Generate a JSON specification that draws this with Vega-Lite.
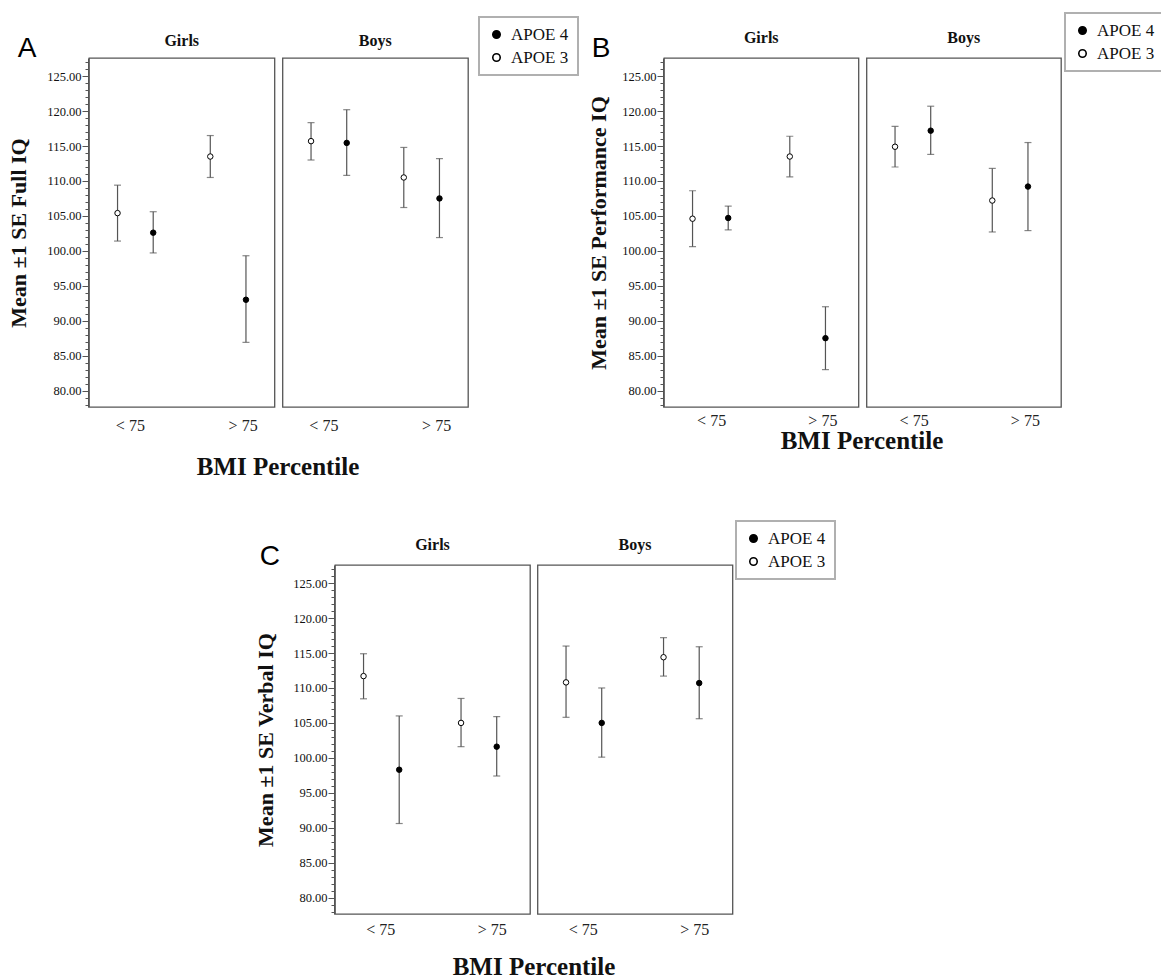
{
  "$schema": "https://vega.github.io/schema/vega-lite/v6.json",
  "padding": {"left": 7, "top": 12, "right": 0, "bottom": 0},
  "background": "white",
  "datasets": {
    "iq": [
      {"panel": "A", "sex": "Girls", "bmi": "< 75", "apoe": "APOE 3", "mean": 105.4, "lo": 101.4, "hi": 109.4},
      {"panel": "A", "sex": "Girls", "bmi": "< 75", "apoe": "APOE 4", "mean": 102.6, "lo": 99.7, "hi": 105.6},
      {"panel": "A", "sex": "Girls", "bmi": "> 75", "apoe": "APOE 3", "mean": 113.5, "lo": 110.5, "hi": 116.5},
      {"panel": "A", "sex": "Girls", "bmi": "> 75", "apoe": "APOE 4", "mean": 93.0, "lo": 86.9, "hi": 99.3},
      {"panel": "A", "sex": "Boys", "bmi": "< 75", "apoe": "APOE 3", "mean": 115.7, "lo": 113.0, "hi": 118.35},
      {"panel": "A", "sex": "Boys", "bmi": "< 75", "apoe": "APOE 4", "mean": 115.45, "lo": 110.8, "hi": 120.2},
      {"panel": "A", "sex": "Boys", "bmi": "> 75", "apoe": "APOE 3", "mean": 110.5, "lo": 106.2, "hi": 114.8},
      {"panel": "A", "sex": "Boys", "bmi": "> 75", "apoe": "APOE 4", "mean": 107.5, "lo": 101.9, "hi": 113.2},
      {"panel": "B", "sex": "Girls", "bmi": "< 75", "apoe": "APOE 3", "mean": 104.6, "lo": 100.6, "hi": 108.6},
      {"panel": "B", "sex": "Girls", "bmi": "< 75", "apoe": "APOE 4", "mean": 104.7, "lo": 103.0, "hi": 106.4},
      {"panel": "B", "sex": "Girls", "bmi": "> 75", "apoe": "APOE 3", "mean": 113.5, "lo": 110.6, "hi": 116.4},
      {"panel": "B", "sex": "Girls", "bmi": "> 75", "apoe": "APOE 4", "mean": 87.5, "lo": 83.0, "hi": 92.0},
      {"panel": "B", "sex": "Boys", "bmi": "< 75", "apoe": "APOE 3", "mean": 114.9, "lo": 112.0, "hi": 117.8},
      {"panel": "B", "sex": "Boys", "bmi": "< 75", "apoe": "APOE 4", "mean": 117.2, "lo": 113.8, "hi": 120.7},
      {"panel": "B", "sex": "Boys", "bmi": "> 75", "apoe": "APOE 3", "mean": 107.2, "lo": 102.7, "hi": 111.8},
      {"panel": "B", "sex": "Boys", "bmi": "> 75", "apoe": "APOE 4", "mean": 109.2, "lo": 102.9, "hi": 115.5},
      {"panel": "C", "sex": "Girls", "bmi": "< 75", "apoe": "APOE 3", "mean": 111.7, "lo": 108.45, "hi": 114.9},
      {"panel": "C", "sex": "Girls", "bmi": "< 75", "apoe": "APOE 4", "mean": 98.3, "lo": 90.6, "hi": 106.0},
      {"panel": "C", "sex": "Girls", "bmi": "> 75", "apoe": "APOE 3", "mean": 105.0, "lo": 101.6, "hi": 108.5},
      {"panel": "C", "sex": "Girls", "bmi": "> 75", "apoe": "APOE 4", "mean": 101.6, "lo": 97.4, "hi": 105.9},
      {"panel": "C", "sex": "Boys", "bmi": "< 75", "apoe": "APOE 3", "mean": 110.8, "lo": 105.8, "hi": 116.0},
      {"panel": "C", "sex": "Boys", "bmi": "< 75", "apoe": "APOE 4", "mean": 105.0, "lo": 100.1, "hi": 110.0},
      {"panel": "C", "sex": "Boys", "bmi": "> 75", "apoe": "APOE 3", "mean": 114.4, "lo": 111.7, "hi": 117.2},
      {"panel": "C", "sex": "Boys", "bmi": "> 75", "apoe": "APOE 4", "mean": 110.7, "lo": 105.6, "hi": 115.9}
    ]
  },
  "spacing": 40,
  "resolve": {"scale": {"fill": "independent"}, "legend": {"fill": "independent"}},
  "vconcat": [
    {
      "spacing": 8,
      "resolve": {"scale": {"fill": "independent"}, "legend": {"fill": "independent"}},
      "hconcat": [
        {
          "data": {"name": "iq"},
          "transform": [{"filter": "datum.panel === 'A'"}],
          "title": {"text": "A", "anchor": "start", "font": "Liberation Sans", "fontSize": 28, "fontWeight": "normal", "color": "black", "dx": 10, "dy": 51},
          "spacing": 5.5,
          "facet": {"column": {"field": "sex", "type": "nominal", "sort": ["Girls", "Boys"], "title": "BMI Percentile",
            "header": {"labelOrient": "top", "labelFont": "Liberation Serif", "labelFontSize": 16, "labelFontWeight": "bold", "labelColor": "#111", "labelPadding": 8,
              "titleOrient": "bottom", "titleFont": "Liberation Serif", "titleFontSize": 25, "titleFontWeight": "bold", "titleColor": "#111", "titlePadding": 12}}},
          "spec": {
            "width": 185.5, "height": 349,
            "encoding": {
              "x": {"field": "bmi", "type": "nominal", "sort": ["< 75", "> 75"], "scale": {"paddingInner": 0, "paddingOuter": 0},
                "axis": {"title": null, "domain": false, "ticks": false, "labelAngle": 0, "labelFont": "Liberation Serif", "labelFontSize": 16, "labelColor": "#222", "labelPadding": 9,
                  "labelOffset": {"condition": {"test": "datum.value === '< 75'", "value": -5}, "value": 15}}},
              "xOffset": {"field": "apoe", "type": "nominal", "sort": ["APOE 3", "APOE 4"], "scale": {"paddingInner": 0, "paddingOuter": 0.3}}
            },
            "layer": [
              {"mark": {"type": "rule", "color": "#555", "strokeWidth": 1.2},
                "encoding": {
                  "y": {"field": "lo", "type": "quantitative", "title": "Mean ±1 SE Full IQ", "scale": {"domain": [77.65, 127.6], "nice": false, "zero": false},
                    "axis": {"title": "Mean ±1 SE Full IQ", "grid": false, "tickCount": 100, "values": [78,79,80,81,82,83,84,85,86,87,88,89,90,91,92,93,94,95,96,97,98,99,100,101,102,103,104,105,106,107,108,109,110,111,112,113,114,115,116,117,118,119,120,121,122,123,124,125,126,127],
                      "labelExpr": "datum.value % 5 === 0 ? format(datum.value, '.2f') : ''", "labelOverlap": false,
                      "tickSize": {"condition": {"test": "datum.value % 5 === 0", "value": 6}, "value": 3},
                      "tickColor": "#555", "domainColor": "#555", "labelPadding": 1, "labelFont": "Liberation Serif", "labelFontSize": 12.5, "labelColor": "#111",
                      "titleFont": "Liberation Serif", "titleFontSize": 22, "titleFontWeight": "bold", "titleColor": "#111", "titlePadding": 16}},
                  "y2": {"field": "hi"}
                }},
              {"mark": {"type": "tick", "color": "#555", "size": 7, "thickness": 1.2},
                "encoding": {"y": {"field": "lo", "type": "quantitative", "title": "Mean ±1 SE Full IQ"}}},
              {"mark": {"type": "tick", "color": "#555", "size": 7, "thickness": 1.2},
                "encoding": {"y": {"field": "hi", "type": "quantitative", "title": "Mean ±1 SE Full IQ"}}},
              {"mark": {"type": "point", "shape": "circle", "filled": true, "stroke": "black", "strokeWidth": 1, "size": 30, "opacity": 1},
                "encoding": {
                  "y": {"field": "mean", "type": "quantitative", "title": "Mean ±1 SE Full IQ"},
                  "fill": {"field": "apoe", "type": "nominal", "scale": {"domain": ["APOE 4", "APOE 3"], "range": ["black", "white"]},
                    "legend": {"title": null, "orient": "none", "legendX": 390, "legendY": -41}}
                }}
            ]
          }
        },
        {
          "data": {"name": "iq"},
          "transform": [{"filter": "datum.panel === 'B'"}],
          "title": {"text": "B", "anchor": "start", "font": "Liberation Sans", "fontSize": 28, "fontWeight": "normal", "color": "black", "dx": 4, "dy": 55},
          "spacing": 5.5,
          "facet": {"column": {"field": "sex", "type": "nominal", "sort": ["Girls", "Boys"], "title": "BMI Percentile",
            "header": {"labelOrient": "top", "labelFont": "Liberation Serif", "labelFontSize": 16, "labelFontWeight": "bold", "labelColor": "#111", "labelPadding": 11,
              "titleOrient": "bottom", "titleFont": "Liberation Serif", "titleFontSize": 25, "titleFontWeight": "bold", "titleColor": "#111", "titlePadding": -9}}},
          "spec": {
            "width": 194.5, "height": 349,
            "encoding": {
              "x": {"field": "bmi", "type": "nominal", "sort": ["< 75", "> 75"], "scale": {"paddingInner": 0, "paddingOuter": 0},
                "axis": {"title": null, "domain": false, "ticks": false, "labelAngle": 0, "labelFont": "Liberation Serif", "labelFontSize": 16, "labelColor": "#222", "labelPadding": 4,
                  "labelOffset": {"condition": {"test": "datum.value === '< 75'", "value": -1}, "value": 13}}},
              "xOffset": {"field": "apoe", "type": "nominal", "sort": ["APOE 3", "APOE 4"], "scale": {"paddingInner": 0, "paddingOuter": 0.3}}
            },
            "layer": [
              {"mark": {"type": "rule", "color": "#555", "strokeWidth": 1.2},
                "encoding": {
                  "y": {"field": "lo", "type": "quantitative", "title": "Mean ±1 SE  Performance IQ", "scale": {"domain": [77.65, 127.6], "nice": false, "zero": false},
                    "axis": {"title": "Mean ±1 SE  Performance IQ", "grid": false, "tickCount": 100, "values": [78,79,80,81,82,83,84,85,86,87,88,89,90,91,92,93,94,95,96,97,98,99,100,101,102,103,104,105,106,107,108,109,110,111,112,113,114,115,116,117,118,119,120,121,122,123,124,125,126,127],
                      "labelExpr": "datum.value % 5 === 0 ? format(datum.value, '.2f') : ''", "labelOverlap": false,
                      "tickSize": {"condition": {"test": "datum.value % 5 === 0", "value": 6}, "value": 3},
                      "tickColor": "#555", "domainColor": "#555", "labelPadding": 1, "labelFont": "Liberation Serif", "labelFontSize": 12.5, "labelColor": "#111",
                      "titleFont": "Liberation Serif", "titleFontSize": 22, "titleFontWeight": "bold", "titleColor": "#111", "titlePadding": 11}},
                  "y2": {"field": "hi"}
                }},
              {"mark": {"type": "tick", "color": "#555", "size": 7, "thickness": 1.2},
                "encoding": {"y": {"field": "lo", "type": "quantitative", "title": "Mean ±1 SE  Performance IQ"}}},
              {"mark": {"type": "tick", "color": "#555", "size": 7, "thickness": 1.2},
                "encoding": {"y": {"field": "hi", "type": "quantitative", "title": "Mean ±1 SE  Performance IQ"}}},
              {"mark": {"type": "point", "shape": "circle", "filled": true, "stroke": "black", "strokeWidth": 1, "size": 30, "opacity": 1},
                "encoding": {
                  "y": {"field": "mean", "type": "quantitative", "title": "Mean ±1 SE  Performance IQ"},
                  "fill": {"field": "apoe", "type": "nominal", "scale": {"domain": ["APOE 4", "APOE 3"], "range": ["black", "white"]},
                    "legend": {"title": null, "orient": "none", "legendX": 401, "legendY": -45}}
                }}
            ]
          }
        }
      ]
    },
    {
      "spacing": 0,
      "resolve": {"scale": {"fill": "independent"}, "legend": {"fill": "independent"}},
      "hconcat": [
        {"width": 165, "height": 10, "data": {"values": []}, "mark": "text", "view": {"stroke": null}},
        {
          "data": {"name": "iq"},
          "transform": [{"filter": "datum.panel === 'C'"}],
          "title": {"text": "C", "anchor": "start", "font": "Liberation Sans", "fontSize": 28, "fontWeight": "normal", "color": "black", "dx": 5, "dy": 55},
          "spacing": 5.5,
          "facet": {"column": {"field": "sex", "type": "nominal", "sort": ["Girls", "Boys"], "title": "BMI Percentile",
            "header": {"labelOrient": "top", "labelFont": "Liberation Serif", "labelFontSize": 16, "labelFontWeight": "bold", "labelColor": "#111", "labelPadding": 11,
              "titleOrient": "bottom", "titleFont": "Liberation Serif", "titleFontSize": 25, "titleFontWeight": "bold", "titleColor": "#111", "titlePadding": 8}}},
          "spec": {
            "width": 195, "height": 349,
            "encoding": {
              "x": {"field": "bmi", "type": "nominal", "sort": ["< 75", "> 75"], "scale": {"paddingInner": 0, "paddingOuter": 0},
                "axis": {"title": null, "domain": false, "ticks": false, "labelAngle": 0, "labelFont": "Liberation Serif", "labelFontSize": 16, "labelColor": "#222", "labelPadding": 6,
                  "labelOffset": {"condition": {"test": "datum.value === '< 75'", "value": -3}, "value": 11}}},
              "xOffset": {"field": "apoe", "type": "nominal", "sort": ["APOE 3", "APOE 4"], "scale": {"paddingInner": 0, "paddingOuter": 0.3}}
            },
            "layer": [
              {"mark": {"type": "rule", "color": "#555", "strokeWidth": 1.2},
                "encoding": {
                  "y": {"field": "lo", "type": "quantitative", "title": "Mean ±1 SE Verbal IQ", "scale": {"domain": [77.65, 127.6], "nice": false, "zero": false},
                    "axis": {"title": "Mean ±1 SE Verbal IQ", "grid": false, "tickCount": 100, "values": [78,79,80,81,82,83,84,85,86,87,88,89,90,91,92,93,94,95,96,97,98,99,100,101,102,103,104,105,106,107,108,109,110,111,112,113,114,115,116,117,118,119,120,121,122,123,124,125,126,127],
                      "labelExpr": "datum.value % 5 === 0 ? format(datum.value, '.2f') : ''", "labelOverlap": false,
                      "tickSize": {"condition": {"test": "datum.value % 5 === 0", "value": 6}, "value": 3},
                      "tickColor": "#555", "domainColor": "#555", "labelPadding": 1, "labelFont": "Liberation Serif", "labelFontSize": 12.5, "labelColor": "#111",
                      "titleFont": "Liberation Serif", "titleFontSize": 22, "titleFontWeight": "bold", "titleColor": "#111", "titlePadding": 15}},
                  "y2": {"field": "hi"}
                }},
              {"mark": {"type": "tick", "color": "#555", "size": 7, "thickness": 1.2},
                "encoding": {"y": {"field": "lo", "type": "quantitative", "title": "Mean ±1 SE Verbal IQ"}}},
              {"mark": {"type": "tick", "color": "#555", "size": 7, "thickness": 1.2},
                "encoding": {"y": {"field": "hi", "type": "quantitative", "title": "Mean ±1 SE Verbal IQ"}}},
              {"mark": {"type": "point", "shape": "circle", "filled": true, "stroke": "black", "strokeWidth": 1, "size": 30, "opacity": 1},
                "encoding": {
                  "y": {"field": "mean", "type": "quantitative", "title": "Mean ±1 SE Verbal IQ"},
                  "fill": {"field": "apoe", "type": "nominal", "scale": {"domain": ["APOE 4", "APOE 3"], "range": ["black", "white"]},
                    "legend": {"title": null, "orient": "none", "legendX": 401, "legendY": -44}}
                }}
            ]
          }
        }
      ]
    }
  ],
  "config": {
    "font": "Liberation Serif",
    "view": {"stroke": "#555", "strokeWidth": 1.3},
    "legend": {"symbolType": "circle", "symbolSize": 55, "symbolStrokeColor": "black", "symbolStrokeWidth": 1.6,
      "labelFont": "Liberation Serif", "labelFontSize": 17, "labelColor": "#111", "padding": 9, "rowPadding": 5, "labelOffset": 6,
      "strokeColor": "#b0b0b0", "strokeWidth": 2}
  }
}
